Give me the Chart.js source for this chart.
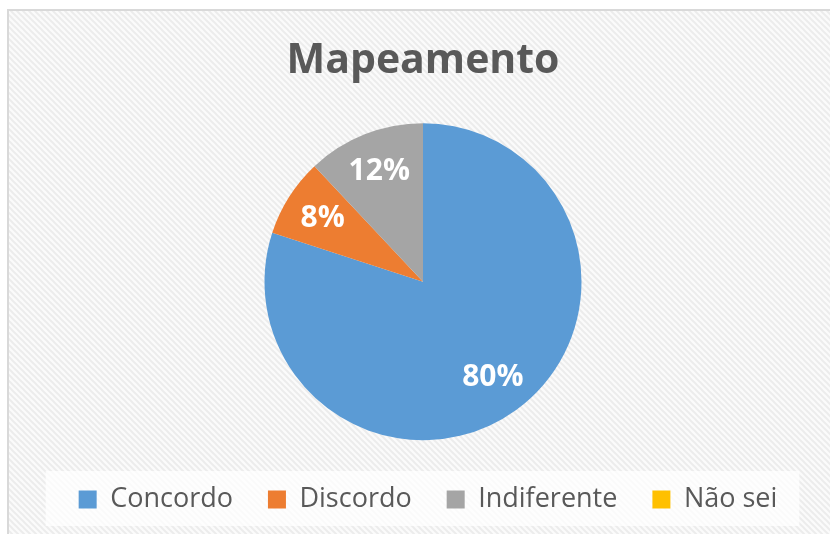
<!DOCTYPE html>
<html>
<head>
<meta charset="utf-8">
<script src="https://cdn.jsdelivr.net/npm/chart.js@4/dist/chart.umd.min.js"></script>
<style>
html,body{margin:0;padding:0;background:#fff;}
#c{display:block;}
</style>
</head>
<body>
<canvas id="c" width="830" height="534"></canvas>
<script>
const chartTitle = "Mapeamento";
const categories = ["Concordo", "Discordo", "Indiferente", "Não sei"];
const values = [80, 8, 12, 0];
const colors = ["#5B9BD5", "#ED7D31", "#A5A5A5", "#FFC000"];

function makePattern(ctx) {
  const t = document.createElement('canvas');
  t.width = 6; t.height = 6;
  const g = t.getContext('2d');
  g.fillStyle = '#fbfbfb';
  g.fillRect(0, 0, 6, 6);
  g.strokeStyle = '#ececec';
  g.lineWidth = 2;
  g.beginPath();
  g.moveTo(-1, -1); g.lineTo(7, 7);
  g.moveTo(-1, 5); g.lineTo(1, 7);
  g.moveTo(5, -1); g.lineTo(7, 1);
  g.stroke();
  return ctx.createPattern(t, 'repeat');
}

const bgPlugin = {
  id: 'bg',
  afterLayout(chart) {
    const lg = chart.legend;
    if (lg) { lg.left += 5; lg.right += 5; }
  },
  beforeDraw(chart) {
    const ctx = chart.ctx;
    ctx.save();
    ctx.fillStyle = '#ffffff';
    ctx.fillRect(0, 0, chart.width, chart.height);
    ctx.fillStyle = makePattern(ctx);
    ctx.fillRect(8, 10, chart.width, chart.height);
    ctx.strokeStyle = '#d9d9d9';
    ctx.lineWidth = 2;
    ctx.strokeRect(8, 10, chart.width + 20, chart.height + 20);
    // legend background box
    const lg = chart.legend;
    if (lg && lg.legendHitBoxes && lg.legendHitBoxes.length) {
      const hb = lg.legendHitBoxes;
      let l = Infinity, r = -Infinity, t = Infinity, b = -Infinity;
      hb.forEach(h => { l = Math.min(l, h.left); r = Math.max(r, h.left + h.width); t = Math.min(t, h.top); b = Math.max(b, h.top + h.height); });
      ctx.fillStyle = 'rgba(255,255,255,0.75)';
      ctx.fillRect(l - 33, t - 15, (r - l) + 55, 55);
    }
    ctx.restore();
  }
};

const labelPlugin = {
  id: 'pieLabels',
  afterDatasetsDraw(chart) {
    const ctx = chart.ctx;
    const meta = chart.getDatasetMeta(0);
    ctx.save();
    ctx.fillStyle = '#ffffff';
    ctx.font = 'bold 30px "Open Sans"';
    ctx.textAlign = 'center';
    ctx.textBaseline = 'middle';
    meta.data.forEach((arc, i) => {
      const v = chart.data.datasets[0].data[i];
      if (!v) return;
      const p = arc.getProps(['x', 'y', 'startAngle', 'endAngle', 'outerRadius'], true);
      const mid = (p.startAngle + p.endAngle) / 2;
      const r = p.outerRadius * 0.75;
      ctx.fillText(v + '%', p.x + Math.cos(mid) * r, p.y + Math.sin(mid) * r);
    });
    ctx.restore();
  }
};

new Chart(document.getElementById('c'), {
  type: 'pie',
  data: {
    labels: categories,
    datasets: [{
      data: values,
      backgroundColor: colors,
      borderWidth: 0
    }]
  },
  options: {
    responsive: false,
    animation: false,
    layout: { padding: { left: 16, right: 0, top: 0, bottom: 11 } },
    plugins: {
      title: {
        display: true,
        text: chartTitle,
        color: '#595959',
        font: { family: '"Open Sans"', size: 41, weight: 'bold' },
        padding: { top: 37, bottom: 37 }
      },
      legend: {
        display: true,
        position: 'bottom',
        title: { display: true, text: ' ', font: { size: 9 }, padding: 0 },
        labels: {
          color: '#595959',
          font: { family: '"Open Sans"', size: 27 },
          boxWidth: 18,
          boxHeight: 18,
          padding: 35
        }
      },
      tooltip: { enabled: false }
    }
  },
  plugins: [bgPlugin, labelPlugin]
});
</script>
</body>
</html>
